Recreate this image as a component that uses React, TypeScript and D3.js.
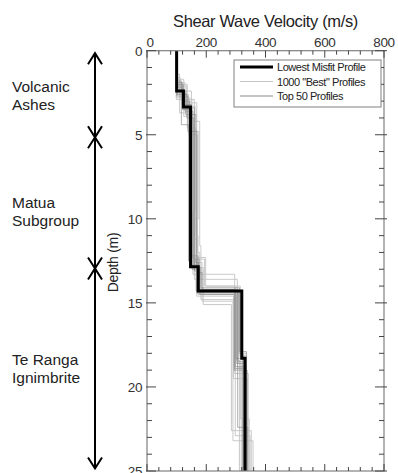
import React from "react";
import * as d3 from "d3";

const xTicksMajor = [0, 200, 400, 600, 800];
const yTicksMajor = [0, 5, 10, 15, 20, 25];

// Lowest misfit profile: layer boundaries (m) and velocities (m/s)
const bestDepth = [0, 2.4, 3.35, 12.85, 14.3, 18.3, 25];
const bestVs = [100, 123, 147, 173, 320, 331];

// 1000 "Best" profiles (sampled)
const thousandDepths = [
  [0, 1.6, 2.9, 11.2, 14.6, 19.5, 25],
  [0, 2.8, 4.8, 10.0, 13.6, 18.8, 25],
  [0, 1.9, 3.1, 12.9, 15.1, 22.6, 25],
  [0, 2.4, 4.2, 11.6, 14.8, 18.6, 25],
  [0, 1.4, 3.7, 12.3, 14.0, 21.9, 25],
  [0, 2.1, 3.3, 9.6, 13.3, 19.2, 25],
  [0, 2.6, 5.0, 12.0, 14.3, 18.0, 25],
  [0, 1.7, 3.9, 12.6, 14.9, 23.2, 25],
  [0, 2.0, 4.6, 11.0, 14.5, 18.4, 25],
  [0, 2.9, 4.4, 12.4, 14.0, 22.9, 25],
];
const thousandVs = [
  [100, 112, 160, 168, 292, 338],
  [99, 145, 175, 160, 305, 330],
  [101, 128, 168, 190, 285, 352],
  [100, 150, 178, 182, 300, 318],
  [98, 110, 152, 198, 315, 345],
  [102, 133, 162, 155, 296, 342],
  [100, 140, 170, 178, 310, 334],
  [101, 124, 146, 186, 290, 358],
  [100, 136, 166, 172, 302, 312],
  [99, 152, 158, 194, 298, 348],
];

// Top 50 profiles (sampled)
const top50Depths = [
  [0, 2.2, 3.2, 12.7, 14.3, 18.1, 25],
  [0, 2.5, 3.6, 12.4, 14.2, 18.5, 25],
  [0, 2.0, 3.4, 13.1, 14.4, 18.9, 25],
  [0, 2.6, 4.0, 12.9, 14.1, 17.9, 25],
  [0, 2.3, 3.0, 12.2, 14.3, 18.3, 25],
  [0, 1.9, 3.5, 13.0, 14.5, 19.0, 25],
  [0, 2.4, 3.8, 12.6, 14.2, 18.6, 25],
  [0, 2.1, 3.3, 12.8, 14.4, 18.2, 25],
  [0, 1.8, 4.4, 12.5, 14.3, 22.4, 25],
  [0, 2.7, 4.8, 13.2, 14.2, 18.8, 25],
];
const top50Vs = [
  [100, 118, 150, 170, 318, 328],
  [100, 128, 155, 176, 308, 325],
  [99, 122, 160, 168, 296, 332],
  [101, 135, 158, 182, 312, 336],
  [100, 125, 144, 172, 300, 322],
  [100, 119, 152, 178, 294, 338],
  [100, 131, 165, 174, 304, 330],
  [100, 121, 148, 170, 314, 326],
  [100, 116, 140, 166, 306, 340],
  [101, 138, 168, 186, 298, 334],
];

// Geological units (depth ranges in m)
const unitNames = [["Volcanic", "Ashes"], ["Matua", "Subgroup"], ["Te Ranga", "Ignimbrite"]];
const unitTop = [0.15, 5.15, 12.95];
const unitBottom = [5.15, 12.95, 24.85];
const unitLabelDepth = [2.45, 9.35, 18.68];

const legendLabels = ["Lowest Misfit Profile", "1000 \"Best\" Profiles", "Top 50 Profiles"];

const L = 147, R = 384, T = 50.7, B = 471;
const x = d3.scaleLinear().domain([0, 800]).range([L, R]);
const y = d3.scaleLinear().domain([0, 25]).range([T, B]);

const line = d3.line<[number, number]>().x((p) => x(p[0])).y((p) => y(p[1]));

function stepPath(d: number[], v: number[]) {
  const pts: [number, number][] = [];
  for (let i = 0; i < v.length; i++) {
    pts.push([v[i], d[i]]);
    pts.push([v[i], d[i + 1]]);
  }
  return line(pts) || "";
}

const font = "'Liberation Sans', Arial, Helvetica, sans-serif";

export default function App() {
  const xMinor = d3.range(0, 801, 40);
  const yMinor = d3.range(0, 26, 1);
  const axisColor = "#808080";
  return (
    <svg width={398} height={473} style={{ position: "absolute", left: 0, top: 0, background: "#fff" }} fontFamily={font}>
      <defs>
        <clipPath id="plotclip">
          <rect x={L} y={T} width={R - L} height={B - T} />
        </clipPath>
      </defs>
      <text x={(L + R) / 2} y={27} textAnchor="middle" fontSize={16.5} letterSpacing={-0.35} fill="#222">
        Shear Wave Velocity (m/s)
      </text>
      {/* x tick labels */}
      {xTicksMajor.map((t) => (
        <text key={"xl" + t} x={x(t) + (t === 0 ? 3 : 0)} y={47} textAnchor="middle" fontSize={13.5} letterSpacing={-0.4} fill="#333">
          {t}
        </text>
      ))}
      {/* y tick labels */}
      {yTicksMajor.map((t) => (
        <text key={"yl" + t} x={L - 5} y={y(t) + 5} textAnchor="end" fontSize={13.5} letterSpacing={-0.4} fill="#333">
          {t}
        </text>
      ))}
      <text transform={`translate(118,${y(12.6)}) rotate(-90)`} textAnchor="middle" fontSize={14} letterSpacing={-0.3} fill="#222">
        Depth (m)
      </text>

      {/* profiles */}
      <g clipPath="url(#plotclip)" fill="none">
        {thousandVs.map((v, i) => (
          <path key={"k" + i} d={stepPath(thousandDepths[i], v)} stroke="#c4c4c4" strokeWidth={0.9} />
        ))}
        {top50Vs.map((v, i) => (
          <path key={"t" + i} d={stepPath(top50Depths[i], v)} stroke="#8a8a8a" strokeWidth={0.9} strokeOpacity={0.75} />
        ))}
        <path d={stepPath(bestDepth, bestVs)} stroke="#000" strokeWidth={3} />
      </g>

      {/* frame */}
      <rect x={L} y={T} width={R - L} height={B - T} fill="none" stroke={axisColor} strokeWidth={1.2} />
      {xMinor.map((t) => {
        const major = t % 200 === 0;
        const len = major ? 7 : 4;
        return (
          <g key={"xt" + t} stroke="#444" strokeWidth={1}>
            <line x1={x(t)} x2={x(t)} y1={T} y2={T + len} />
            <line x1={x(t)} x2={x(t)} y1={B} y2={B - len} />
          </g>
        );
      })}
      {yMinor.map((t) => {
        const major = t % 5 === 0;
        const len = major ? 9 : 5;
        return (
          <g key={"yt" + t} stroke="#444" strokeWidth={1}>
            <line x1={L - (major ? 1 : 0)} x2={L + len} y1={y(t)} y2={y(t)} />
            <line x1={R + (major ? 3 : 0)} x2={R - len} y1={y(t)} y2={y(t)} />
          </g>
        );
      })}

      {/* legend */}
      <rect x={234} y={60} width={147} height={47} fill="#fff" stroke={axisColor} strokeWidth={1} />
      {legendLabels.map((lab, i) => {
        const ly = 67 + i * 14.5;
        const stroke = i === 0 ? "#000" : i === 1 ? "#c4c4c4" : "#8a8a8a";
        const sw = i === 0 ? 3 : 1;
        return (
          <g key={"lg" + i}>
            <line x1={240} x2={273} y1={ly} y2={ly} stroke={stroke} strokeWidth={sw} />
            <text x={277} y={ly + 4} fontSize={11} letterSpacing={-0.45} fill="#222">
              {lab}
            </text>
          </g>
        );
      })}

      {/* unit arrows and labels */}
      {unitNames.map((names, i) => {
        const y1 = y(unitTop[i]);
        const y2 = y(unitBottom[i]);
        const ax = 95;
        const hw = 7, hh = 11;
        return (
          <g key={"u" + i}>
            <line x1={ax} x2={ax} y1={y1} y2={y2} stroke="#000" strokeWidth={2} />
            <path d={`M${ax - hw},${y1 + hh}L${ax},${y1}L${ax + hw},${y1 + hh}`} fill="none" stroke="#000" strokeWidth={2} />
            <path d={`M${ax - hw},${y2 - hh}L${ax},${y2}L${ax + hw},${y2 - hh}`} fill="none" stroke="#000" strokeWidth={2} />
            {names.map((n, j) => (
              <text key={j} x={12} y={y(unitLabelDepth[i]) + j * 18.5} fontSize={15.5} fill="#222">
                {n}
              </text>
            ))}
          </g>
        );
      })}
    </svg>
  );
}
